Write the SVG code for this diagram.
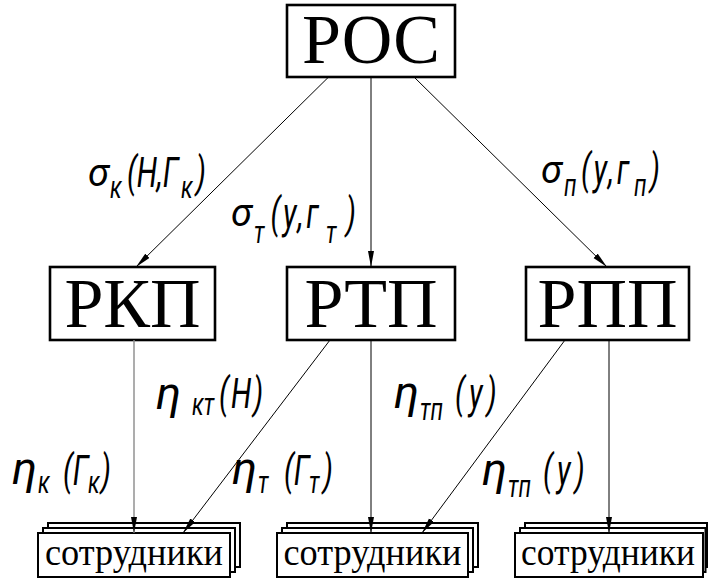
<svg xmlns="http://www.w3.org/2000/svg" width="708" height="579" viewBox="0 0 708 579">
<style>
.box{fill:#fff;stroke:#000;stroke-width:2.6}
.sbox{fill:#fff;stroke:#000;stroke-width:2}
.big{font-family:"Liberation Serif","Times New Roman",serif;font-size:70px;text-anchor:middle;fill:#000}
.emp{font-family:"Liberation Serif","Times New Roman",serif;font-size:38px;text-anchor:middle;fill:#000}
.lbl{font-family:Roboto,"DejaVu Sans",sans-serif;font-style:italic;font-size:42px;fill:#000}
.sub{font-size:32px}
.eta{font-family:Roboto,"DejaVu Sans",sans-serif;font-style:italic;font-size:46px;fill:#000}
.sig{font-family:Roboto,"DejaVu Sans",sans-serif;font-style:italic;font-size:38px;fill:#000}
.ln{stroke:#000;stroke-width:1;fill:none;marker-end:url(#ah)}
.gr{stroke:#8a8a8a;stroke-width:1.4}
</style>
<defs>
<marker id="ah" markerUnits="userSpaceOnUse" markerWidth="17" markerHeight="7" refX="16" refY="3" orient="auto">
<path d="M0,0 L16,3 L0,6 Z" fill="#000"/>
</marker>
</defs>
<rect width="708" height="579" fill="#fff"/>

<g id="ros">
<rect class="box" x="287" y="5" width="168" height="72"/>
<text class="big" x="371" y="63">РОС</text>
</g>
<g id="rkp">
<rect class="box" x="50" y="267" width="165" height="73"/>
<text class="big" x="132.5" y="327">РКП</text>
</g>
<g id="rtp">
<rect class="box" x="287" y="267" width="168" height="73"/>
<text class="big" x="371" y="327">РТП</text>
</g>
<g id="rpp">
<rect class="box" x="526" y="267" width="163" height="73"/>
<text class="big" x="607.5" y="327">РПП</text>
</g>

<g id="staff1">
<rect class="sbox" x="48" y="523" width="192" height="44"/>
<rect class="sbox" x="43" y="528" width="192" height="44"/>
<rect class="sbox" x="38" y="533" width="192" height="44"/>
<text class="emp" x="134" y="565" textLength="178" lengthAdjust="spacingAndGlyphs">сотрудники</text>
</g>
<g id="staff2">
<rect class="sbox" x="287" y="523" width="191" height="44"/>
<rect class="sbox" x="282" y="528" width="191" height="44"/>
<rect class="sbox" x="277" y="533" width="191" height="44"/>
<text class="emp" x="372.5" y="565" textLength="178" lengthAdjust="spacingAndGlyphs">сотрудники</text>
</g>
<g id="staff3">
<rect class="sbox" x="525" y="523" width="182" height="44"/>
<rect class="sbox" x="520" y="528" width="185.5" height="44"/>
<rect class="sbox" x="515" y="533" width="188" height="44"/>
<text class="emp" x="608" y="565" textLength="174" lengthAdjust="spacingAndGlyphs">сотрудники</text>
</g>

<g id="connectors">
<line class="ln" x1="328.6" y1="77" x2="136" y2="267"/>
<line class="ln" x1="371" y1="77" x2="371" y2="267"/>
<line class="ln" x1="414" y1="77" x2="607" y2="267"/>
<line class="ln gr" x1="134" y1="340" x2="134" y2="533"/>
<line class="ln" x1="330" y1="340" x2="183" y2="533"/>
<line class="ln" x1="371" y1="340" x2="371" y2="533"/>
<line class="ln" x1="565" y1="340" x2="422" y2="533"/>
<line class="ln" x1="609" y1="340" x2="609" y2="533"/>
</g>

<g id="labels">
<g id="lbl-sk">
<text class="sig" x="88" y="186">σ</text>
<text class="lbl" transform="scale(0.7,1)"><tspan class="sub" x="157" y="198">к</tspan><tspan x="181.4" y="187">(Н,Г</tspan><tspan class="sub" x="258.6" y="198">к</tspan><tspan x="280" y="187">)</tspan></text>
</g>
<g id="lbl-st">
<text class="sig" x="231" y="226">σ</text>
<text class="lbl" transform="scale(0.7,1)"><tspan class="sub" x="362.9" y="243">т</tspan><tspan x="386.4" y="228" letter-spacing="4">(у,г</tspan><tspan class="sub" x="465.7" y="243">т</tspan><tspan x="494.3" y="228">)</tspan></text>
</g>
<g id="lbl-sp">
<text class="sig" x="541" y="183">σ</text>
<text class="lbl" transform="scale(0.7,1)"><tspan class="sub" x="805.7" y="196">п</tspan><tspan x="830" y="184" letter-spacing="4">(у,г</tspan><tspan class="sub" x="905.7" y="196">п</tspan><tspan x="928.6" y="184">)</tspan></text>
</g>
<g id="lbl-ekt">
<text class="eta" x="156" y="409">η</text>
<text class="lbl" transform="scale(0.7,1)"><tspan class="sub" x="274.3" y="415">кт</tspan><tspan x="312.9" y="408" letter-spacing="3">(Н)</tspan></text>
</g>
<g id="lbl-ek">
<text class="eta" x="12" y="484">η</text>
<text class="lbl" transform="scale(0.7,1)"><tspan class="sub" x="54.3" y="493">к</tspan><tspan x="90" y="485">(Г</tspan><tspan class="sub" x="125.7" y="493">к</tspan><tspan x="144.3" y="485">)</tspan></text>
</g>
<g id="lbl-et">
<text class="eta" x="232" y="484">η</text>
<text class="lbl" transform="scale(0.7,1)"><tspan class="sub" x="368.6" y="493">т</tspan><tspan x="405.7" y="485">(Г</tspan><tspan class="sub" x="441.4" y="493">т</tspan><tspan x="461.4" y="485">)</tspan></text>
</g>
<g id="lbl-etp1">
<text class="eta" x="394" y="408">η</text>
<text class="lbl" transform="scale(0.7,1)"><tspan class="sub" x="600" y="420">тп</tspan><tspan x="650" y="408" letter-spacing="6">(у)</tspan></text>
</g>
<g id="lbl-etp2">
<text class="eta" x="482" y="485">η</text>
<text class="lbl" transform="scale(0.7,1)"><tspan class="sub" x="725.7" y="497">тп</tspan><tspan x="775.7" y="485" letter-spacing="6">(у)</tspan></text>
</g>
</g>
</svg>
